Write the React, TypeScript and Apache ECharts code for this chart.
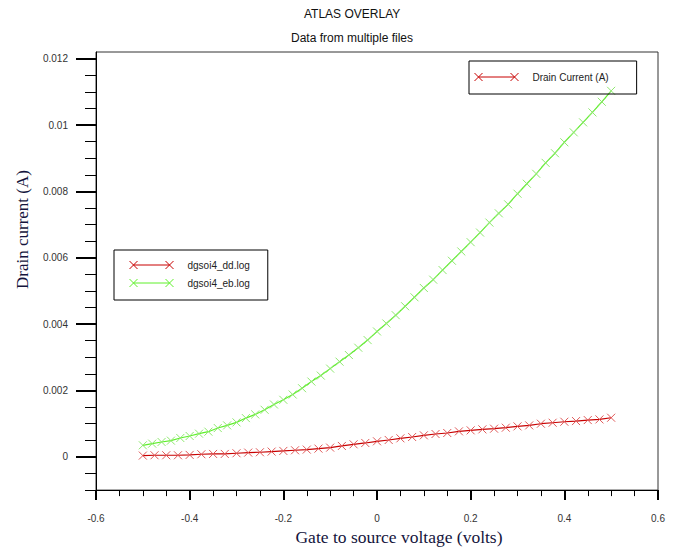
import React, { useEffect, useRef } from "react";
import * as echarts from "echarts";

// ---- Data ----
const ddVoltage = [
  -0.5, -0.475, -0.45, -0.425, -0.4, -0.375, -0.35, -0.325, -0.3, -0.275,
  -0.25, -0.225, -0.2, -0.175, -0.15, -0.125, -0.1, -0.075, -0.05, -0.025,
  0, 0.025, 0.05, 0.075, 0.1, 0.125, 0.15, 0.175, 0.2, 0.225,
  0.25, 0.275, 0.3, 0.325, 0.35, 0.375, 0.4, 0.425, 0.45, 0.475, 0.5,
];
const ddCurrent = [
  0.00004, 0.00005, 0.00005, 0.00005, 0.00006, 0.00008, 0.00009, 0.00009, 0.00011, 0.00013,
  0.00014, 0.00016, 0.00018, 0.0002, 0.00022, 0.00025, 0.00028, 0.00033, 0.00038, 0.00042,
  0.00047, 0.00051, 0.00056, 0.0006, 0.00065, 0.00069, 0.00072, 0.00077, 0.0008, 0.00083,
  0.00085, 0.00088, 0.00092, 0.00095, 0.001, 0.00103, 0.00106, 0.00108, 0.00111, 0.00113, 0.00118,
];
const ebVoltage = [
  -0.5, -0.48, -0.46, -0.44, -0.42, -0.4, -0.38, -0.36, -0.34, -0.32,
  -0.3, -0.28, -0.26, -0.24, -0.22, -0.2, -0.18, -0.16, -0.14, -0.12,
  -0.1, -0.08, -0.06, -0.04, -0.02, 0, 0.02, 0.04, 0.06, 0.08,
  0.1, 0.12, 0.14, 0.16, 0.18, 0.2, 0.22, 0.24, 0.26, 0.28,
  0.3, 0.32, 0.34, 0.36, 0.38, 0.4, 0.42, 0.44, 0.46, 0.48, 0.5,
];
const ebCurrent = [
  0.00035, 0.0004, 0.00045, 0.00049, 0.00057, 0.00063, 0.0007, 0.00076, 0.00087, 0.00095,
  0.00104, 0.00117, 0.00128, 0.00142, 0.00158, 0.00172, 0.00188, 0.00207, 0.00227, 0.00245,
  0.00266, 0.00287, 0.00307, 0.00329, 0.00352, 0.00378, 0.00402, 0.00427, 0.00454, 0.00481,
  0.00509, 0.00534, 0.00563, 0.00591, 0.00619, 0.00647, 0.00676, 0.00706, 0.00734, 0.00761,
  0.00793, 0.00823, 0.00853, 0.00886, 0.00915, 0.00948, 0.00978, 0.01008, 0.01038, 0.0107, 0.01103,
];
const xMajorTicks = [-0.6, -0.4, -0.2, 0, 0.2, 0.4, 0.6];
const xMinorTicks = [
  -0.6, -0.55, -0.5, -0.45, -0.4, -0.35, -0.3, -0.25, -0.2, -0.15, -0.1, -0.05,
  0, 0.05, 0.1, 0.15, 0.2, 0.25, 0.3, 0.35, 0.4, 0.45, 0.5, 0.55, 0.6,
];
const yMajorTicks = [0, 0.002, 0.004, 0.006, 0.008, 0.01, 0.012];
const yMinorTicks = [
  -0.001, -0.0005, 0, 0.0005, 0.001, 0.0015, 0.002, 0.0025, 0.003, 0.0035, 0.004,
  0.0045, 0.005, 0.0055, 0.006, 0.0065, 0.007, 0.0075, 0.008, 0.0085, 0.009,
  0.0095, 0.01, 0.0105, 0.011, 0.0115, 0.012,
];
const seriesNames = ["dgsoi4_dd.log", "dgsoi4_eb.log"];
const overlayLegendName = "Drain Current (A)";

const SANS = "'Liberation Sans', Arial, sans-serif";
const SERIF = "'Liberation Serif', 'Times New Roman', serif";
const XMARK = "path://M0,0L8,8M0,8L8,0";
const LEGEND_ICON = "path://M0,0L8,8M0,8L8,0M4,4L40,4M36,0L44,8M36,8L44,0";
const RED_LINE = "#c80000";
const RED_MARK = "#e05a5a";
const GREEN_LINE = "#5ef02a";
const GREEN_MARK = "#8fe870";

const fmt = (v: number) => String(Number(v.toFixed(4)));

export default function App() {
  const ref = useRef<HTMLDivElement>(null);

  useEffect(() => {
    if (!ref.current) return;
    const chart = echarts.init(ref.current, null, { renderer: "svg" });
    const ddData = ddVoltage.map((x, i) => [x, ddCurrent[i]]);
    const ebData = ebVoltage.map((x, i) => [x, ebCurrent[i]]);

    chart.setOption({
      animation: false,
      backgroundColor: "#ffffff",
      title: [
        {
          text: "ATLAS OVERLAY",
          left: 304,
          top: 8,
          padding: 0,
          textStyle: { fontSize: 12, fontWeight: "normal", color: "#111", fontFamily: SANS },
        },
        {
          text: "Data from multiple files",
          left: 291,
          top: 32,
          padding: 0,
          textStyle: { fontSize: 12, fontWeight: "normal", color: "#111", fontFamily: SANS },
        },
      ],
      grid: {
        left: 96,
        right: 18,
        top: 52,
        bottom: 56,
        show: true,
        borderColor: "#333",
        borderWidth: 1,
        containLabel: false,
      },
      legend: [
        {
          data: [
            {
              name: overlayLegendName,
              icon: LEGEND_ICON,
              itemStyle: { color: "transparent", borderColor: RED_LINE, borderWidth: 1 },
            },
          ],
          left: 469,
          top: 61,
          orient: "vertical",
          selectedMode: false,
          itemWidth: 46,
          itemHeight: 8,
          padding: [10, 28, 11, 5],
          borderColor: "#000",
          borderWidth: 1,
          borderRadius: 0,
          textStyle: { fontSize: 10, color: "#222", fontFamily: SANS, lineHeight: 12, padding: [0, 0, 0, 8] },
        },
        {
          data: [
            {
              name: seriesNames[0],
              icon: LEGEND_ICON,
              itemStyle: { color: "transparent", borderColor: RED_LINE, borderWidth: 1 },
            },
            {
              name: seriesNames[1],
              icon: LEGEND_ICON,
              itemStyle: { color: "transparent", borderColor: GREEN_LINE, borderWidth: 1 },
            },
          ],
          left: 114,
          top: 250,
          orient: "vertical",
          selectedMode: false,
          itemWidth: 44,
          itemHeight: 8,
          itemGap: 6,
          padding: [9, 18, 11, 15],
          borderColor: "#000",
          borderWidth: 1,
          borderRadius: 0,
          textStyle: { fontSize: 10, color: "#222", fontFamily: SANS, lineHeight: 12, padding: [0, 0, 0, 9] },
        },
      ],
      xAxis: [
        {
          type: "value",
          min: -0.6,
          max: 0.6,
          position: "bottom",
          axisLine: { show: true, onZero: false, lineStyle: { color: "#000", width: 1 } },
          axisTick: { show: true, customValues: xMinorTicks, length: 6, lineStyle: { color: "#000", width: 1 } },
          axisLabel: { show: false },
          splitLine: { show: false },
        },
        {
          type: "value",
          min: -0.6,
          max: 0.6,
          position: "bottom",
          axisLine: { show: false, onZero: false },
          axisTick: { show: true, customValues: xMajorTicks, length: 10, lineStyle: { color: "#000", width: 2 } },
          axisLabel: {
            show: true,
            customValues: xMajorTicks,
            formatter: (v: number) => fmt(v),
            margin: 23,
            fontSize: 10,
            color: "#333",
            fontFamily: SANS,
          },
          splitLine: { show: false },
          name: "Gate to source voltage (volts)",
          nameLocation: "middle",
          nameGap: 35,
          nameTextStyle: { fontSize: 17.5, color: "#14143c", fontFamily: SERIF, padding: [0, 0, 0, 44] },
        },
      ],
      yAxis: [
        {
          type: "value",
          min: -0.001,
          max: 0.0122,
          position: "left",
          axisLine: { show: true, onZero: false, lineStyle: { color: "#000", width: 1 } },
          axisTick: { show: true, customValues: yMinorTicks, length: 11, lineStyle: { color: "#000", width: 1 } },
          axisLabel: { show: false },
          splitLine: { show: false },
        },
        {
          type: "value",
          min: -0.001,
          max: 0.0122,
          position: "left",
          axisLine: { show: false, onZero: false },
          axisTick: { show: true, customValues: yMajorTicks, length: 20, lineStyle: { color: "#000", width: 2 } },
          axisLabel: {
            show: true,
            customValues: yMajorTicks,
            formatter: (v: number) => fmt(v),
            margin: 28,
            fontSize: 10,
            color: "#333",
            fontFamily: SANS,
            padding: [7, 0, 0, 0],
          },
          splitLine: { show: false },
          name: "Drain current (A)",
          nameLocation: "middle",
          nameGap: 65,
          nameTextStyle: { fontSize: 17, color: "#14143c", fontFamily: SERIF, padding: [0, 0, 0, 83] },
        },
      ],
      series: [
        {
          name: seriesNames[0],
          type: "line",
          data: ddData,
          symbol: XMARK,
          symbolSize: 8,
          showSymbol: true,
          itemStyle: { color: "transparent", borderColor: RED_MARK, borderWidth: 1 },
          lineStyle: { color: RED_LINE, width: 1.2 },
          emphasis: { disabled: true },
          z: 3,
        },
        {
          name: seriesNames[1],
          type: "line",
          data: ebData,
          symbol: XMARK,
          symbolSize: 8,
          showSymbol: true,
          itemStyle: { color: "transparent", borderColor: GREEN_MARK, borderWidth: 1 },
          lineStyle: { color: GREEN_LINE, width: 1.2 },
          emphasis: { disabled: true },
          z: 2,
        },
        {
          name: overlayLegendName,
          type: "line",
          data: [],
          symbol: XMARK,
          itemStyle: { color: "transparent", borderColor: RED_LINE, borderWidth: 1 },
          lineStyle: { color: RED_LINE, width: 1 },
        },
      ],
    });

    return () => chart.dispose();
  }, []);

  return (
    <div
      ref={ref}
      style={{ position: "absolute", left: 0, top: 0, width: 676, height: 551, background: "#fff" }}
    />
  );
}
